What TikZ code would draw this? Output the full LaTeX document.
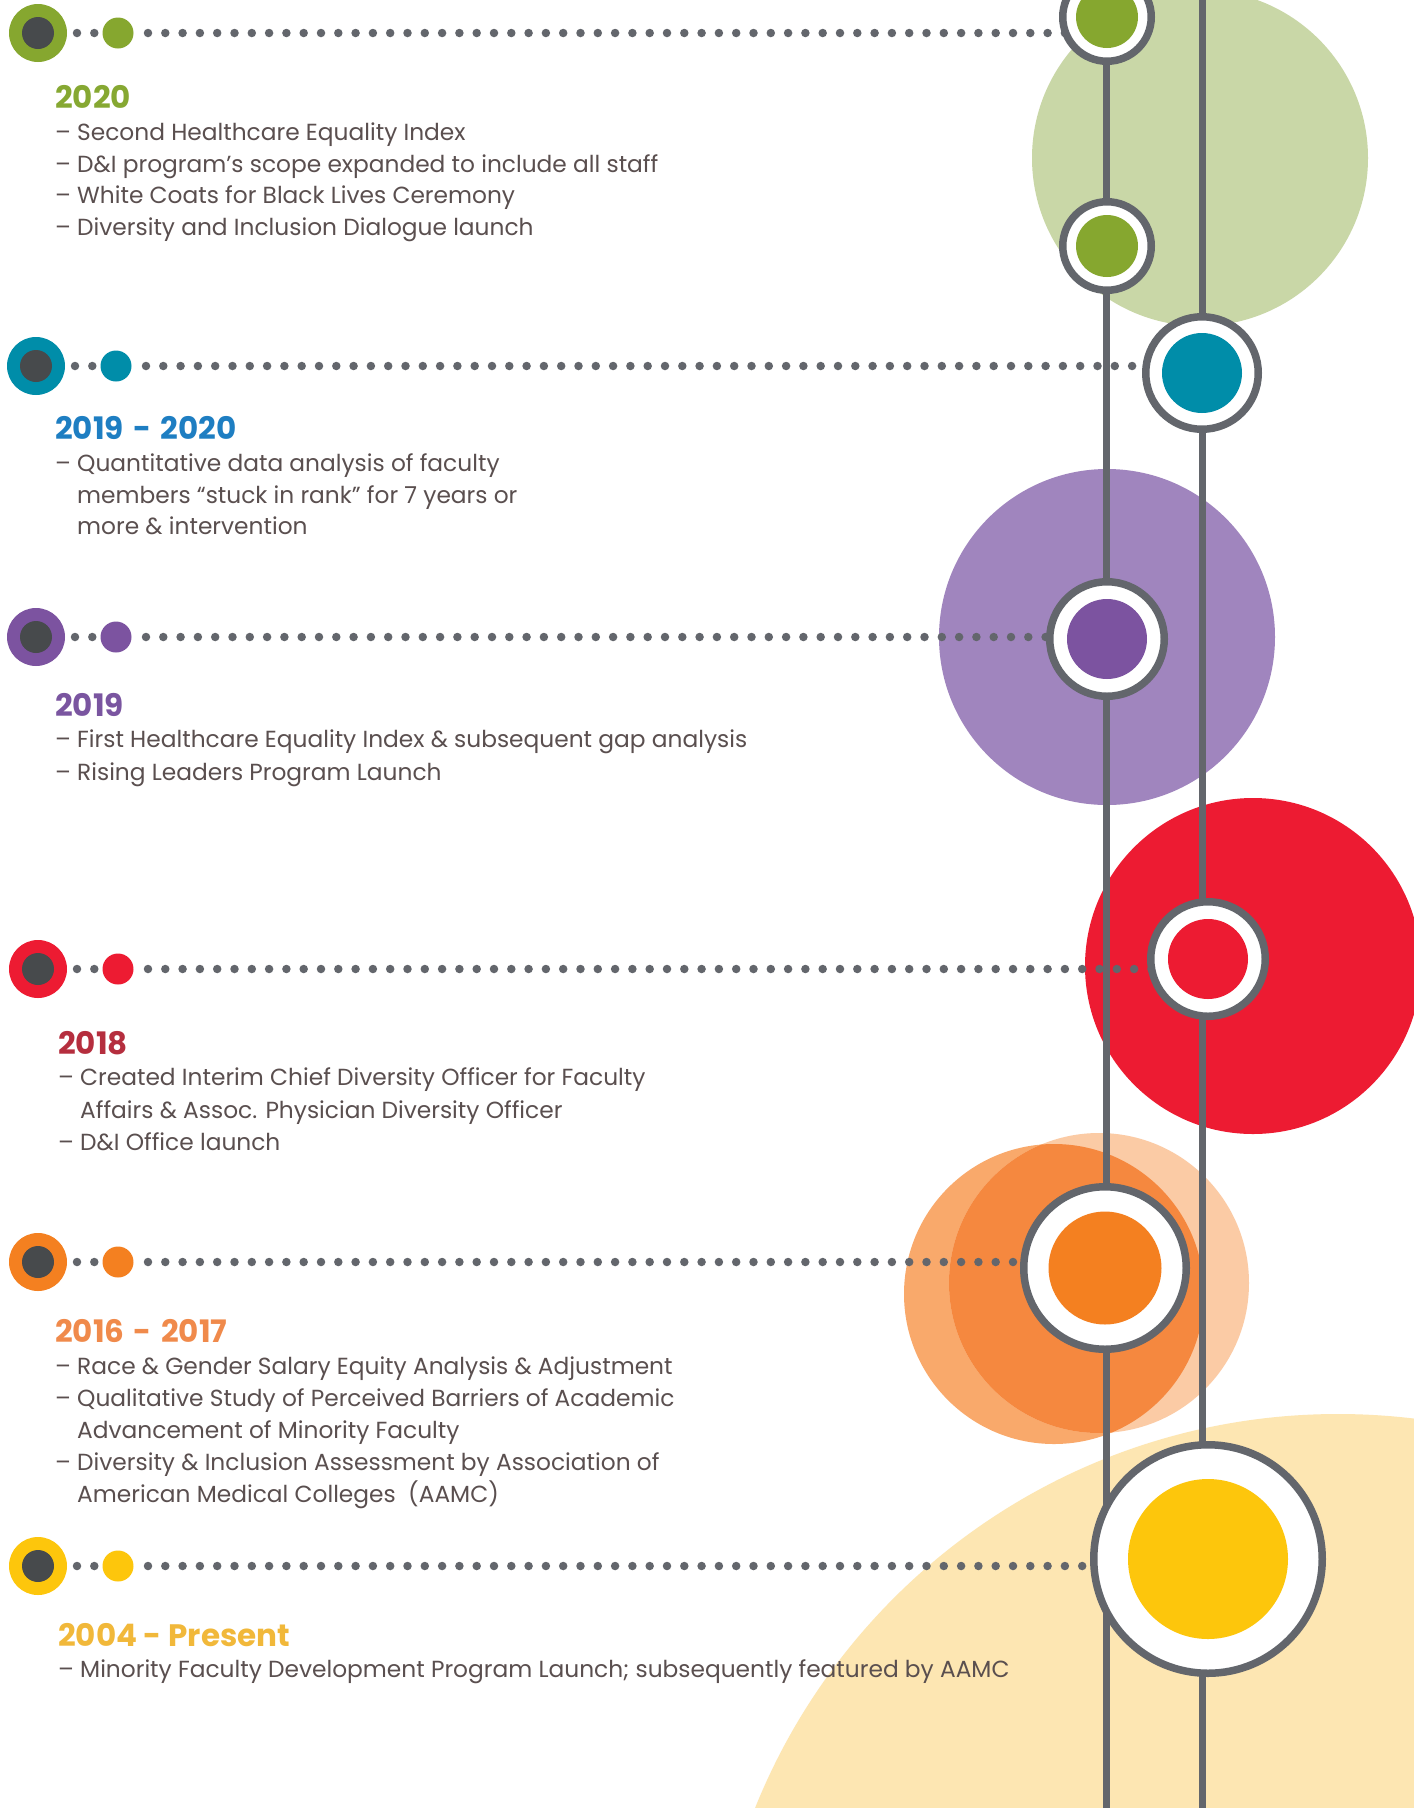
\documentclass[tikz,border=0pt]{standalone}
\usepackage{fontspec}
\setmainfont{Poppins}
\pgfdeclarelayer{bg}
\pgfdeclarelayer{rails}
\pgfsetlayers{bg,rails,main}
\definecolor{linegray}{HTML}{63666C}
\definecolor{darkdot}{HTML}{474A4C}
\definecolor{textgray}{HTML}{5A4F4F}
\definecolor{cgreen}{HTML}{86A72F}
\definecolor{cteal}{HTML}{008DA9}
\definecolor{cpurple}{HTML}{7C53A0}
\definecolor{cred}{HTML}{ED1B32}
\definecolor{corange}{HTML}{F48020}
\definecolor{cyellow}{HTML}{FDC60C}
\definecolor{ltgreen}{HTML}{C9D7A7}
\definecolor{ltpurple}{HTML}{A085BE}
\definecolor{orA}{HTML}{F9A96B}
\definecolor{orB}{HTML}{FBCBA5}
\definecolor{orOv}{HTML}{F5883F}
\definecolor{ltyellow}{HTML}{FDE6B2}
\definecolor{ygreen}{HTML}{86A832}
\definecolor{yblue}{HTML}{1E7EC2}
\definecolor{ypurple}{HTML}{7A55A0}
\definecolor{yred}{HTML}{B52E3E}
\definecolor{yorange}{HTML}{F08A4B}
\definecolor{yyellow}{HTML}{F1B83A}
\newcommand{\yrdash}{\hspace{0.3em}-\hspace{0.3em}}
\begin{document}
\begin{tikzpicture}[x=1pt,y=-1pt,
  hub/.style n args={3}{circle, draw=linegray, line width=7.5pt, fill=white,
    inner sep=0pt, outer sep=0pt, minimum size=#1,
    path picture={\fill[#3] (path picture bounding box.center) circle (#2);}},
  bigdot/.style={circle, fill=#1, minimum size=58pt, inner sep=0pt, outer sep=0pt,
    path picture={\fill[darkdot] (path picture bounding box.center) circle (16pt);}},
  smalldot/.style={circle, fill=#1, minimum size=31pt, inner sep=0pt, outer sep=0pt},
  dotline/.style={draw=linegray, line width=8.5pt, line cap=round, dash pattern=on 0pt off 17.3pt},
  rail/.style={draw=linegray, line width=7.5pt},
  yr/.style={font=\bfseries\fontsize{31}{34}\selectfont, text=#1, anchor=mid west, inner sep=0pt},
  body/.style={font=\fontsize{23.3}{28}\selectfont, text=textgray, anchor=mid west, inner sep=0pt}
]
\useasboundingbox (0,0) rectangle (1414,1808);

% background circles
\begin{pgfonlayer}{bg}
\begin{scope}
\clip (0,0) rectangle (1414,1808);
\fill[white] (0,0) rectangle (1414,1808);
\fill[ltgreen] (1200,158) circle (168pt);
\fill[ltpurple] (1107,637) circle (168pt);
\fill[cred] (1253,966) circle (168pt);
\fill[ltyellow] (1338,2042) circle (628pt);
\fill[orA] (1054,1294) circle (150pt);
\fill[orB] (1099,1283) circle (150pt);
\begin{scope}
\clip (1054,1294) circle (150pt);
\fill[orOv] (1099,1283) circle (150pt);
\end{scope}
\end{scope}
\end{pgfonlayer}

% hubs on the rails
\node[hub={88.5pt}{31pt}{cgreen}] (G1) at (1107,17) {};
\node[hub={88.5pt}{31pt}{cgreen}] (G2) at (1107,246) {};
\node[hub={112.5pt}{40pt}{cteal}] (T) at (1202,373) {};
\node[hub={114.5pt}{40pt}{cpurple}] (P) at (1107,639) {};
\node[hub={114.5pt}{40pt}{cred}] (R) at (1208,959) {};
\node[hub={162.5pt}{56.5pt}{corange}] (O) at (1105,1268) {};
\node[hub={228.5pt}{80pt}{cyellow}] (Y) at (1208,1559) {};

% row markers
\node[bigdot=cgreen] (ga) at (38,33) {};
\node[smalldot=cgreen] (gb) at (118,33) {};
\node[bigdot=cteal] (ta) at (36,366) {};
\node[smalldot=cteal] (tb) at (116,366) {};
\node[bigdot=cpurple] (pa) at (36,637) {};
\node[smalldot=cpurple] (pb) at (116,637) {};
\node[bigdot=cred] (ra) at (38,969) {};
\node[smalldot=cred] (rb) at (118,969) {};
\node[bigdot=corange] (oa) at (38,1262) {};
\node[smalldot=corange] (ob) at (118,1262) {};
\node[bigdot=cyellow] (ya) at (38,1566) {};
\node[smalldot=cyellow] (yb) at (118,1566) {};

\coordinate (LT) at (1106.5,0);
\coordinate (LB) at (1106.5,1808);
\coordinate (RT) at (1202.5,0);
\coordinate (RB) at (1202.5,1808);

\begin{pgfonlayer}{rails}
\draw[rail] (LT) -- (LB);
\draw[rail] (RT) -- (RB);
\foreach \a/\b/\h in {ga/gb/G1, ta/tb/T, pa/pb/P, ra/rb/R, oa/ob/O, ya/yb/Y}{
  \draw[dotline, shorten <=10pt, shorten >=8pt] (\a.east) -- (\b.west);
  \draw[dotline, shorten <=14.5pt] (\b.east) -- (\b.east -| \h);
}
\end{pgfonlayer}

% texts
\node[yr=ygreen] (y1) at (55,106) {2020};
\node[body] (t11) at (55,138) {– Second Healthcare Equality Index};
\node[body] (t12) at (55,170) {– D\&I program’s scope expanded to include all staff};
\node[body] (t13) at (55,201) {– White Coats for Black Lives Ceremony};
\node[body] (t14) at (55,233) {– Diversity and Inclusion Dialogue launch};

\node[yr=yblue] (y2) at (55,437) {2019\yrdash 2020};
\node[body] (t21) at (55,469) {– Quantitative data analysis of faculty};
\node[body] (t22) at (55,501) {\phantom{– }members “stuck in rank” for 7 years or};
\node[body] (t23) at (55,532) {\phantom{– }more \& intervention};

\node[yr=ypurple] (y3) at (55,714) {2019};
\node[body] (t31) at (55,745) {– First Healthcare Equality Index \& subsequent gap analysis};
\node[body] (t32) at (55,778) {– Rising Leaders Program Launch};

\node[yr=yred] (y4) at (58,1052) {2018};
\node[body] (t41) at (58,1083) {– Created Interim Chief Diversity Officer for Faculty};
\node[body] (t42) at (58,1116) {\phantom{– }Affairs \& Assoc. Physician Diversity Officer};
\node[body] (t43) at (58,1148) {– D\&I Office launch};

\node[yr=yorange] (y5) at (55,1340) {2016\yrdash 2017};
\node[body] (t51) at (55,1372) {– Race \& Gender Salary Equity Analysis \& Adjustment};
\node[body] (t52) at (55,1404) {– Qualitative Study of Perceived Barriers of Academic};
\node[body] (t53) at (55,1436) {\phantom{– }Advancement of Minority Faculty};
\node[body] (t54) at (55,1468) {– Diversity \& Inclusion Assessment by Association of};
\node[body] (t55) at (55,1500) {\phantom{– }American Medical Colleges\ \ (AAMC)};

\node[yr=yyellow] (y6) at (58,1644) {2004 - Present};
\node[body] (t61) at (58,1675) {– Minority Faculty Development Program Launch; subsequently featured by AAMC};
\end{tikzpicture}
\end{document}
